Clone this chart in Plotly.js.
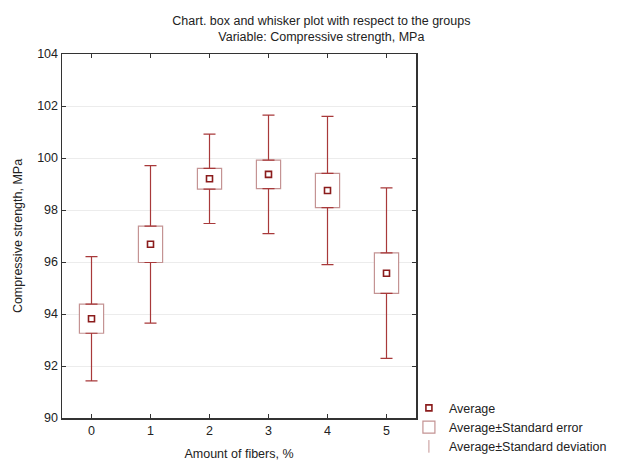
<!DOCTYPE html>
<html>
<head>
<meta charset="utf-8">
<script src="https://cdn.plot.ly/plotly-3.0.1.min.js"></script>
<style>html,body{margin:0;padding:0;background:#fff;}#chart{width:624px;height:473px;}</style>
</head>
<body>
<div id="chart"></div>
<script>
// Data
const fibers = [0, 1, 2, 3, 4, 5];
const tickLabels = ["0", "1", "2", "3", "4", "5"];
const average = [93.82, 96.68, 99.20, 99.37, 98.75, 95.57];
const stdError = [0.56, 0.70, 0.40, 0.55, 0.66, 0.78];
const stdDev = [2.39, 3.03, 1.72, 2.28, 2.85, 3.28];

const whiskerColor = '#a8393a';
const boxColor = '#c49393';
const meanColor = '#8b1c1c';
const fontFamily = 'Liberation Sans, Arial, sans-serif';

const seLow = average.map((m, i) => m - stdError[i]);
const seHigh = average.map((m, i) => m + stdError[i]);
const whiskerLen = stdDev.map((s, i) => s - stdError[i]);
const zeros = fibers.map(() => 0);

const traces = [
  // upper whiskers (from box top to mean+SD)
  {
    type: 'scatter', mode: 'markers', x: fibers, y: seHigh,
    marker: {size: 1, color: 'rgba(0,0,0,0)'},
    error_y: {type: 'data', symmetric: false, array: whiskerLen, arrayminus: zeros,
              color: whiskerColor, thickness: 1.2, width: 6},
    showlegend: false, hoverinfo: 'skip'
  },
  // lower whiskers (from box bottom to mean-SD)
  {
    type: 'scatter', mode: 'markers', x: fibers, y: seLow,
    marker: {size: 1, color: 'rgba(0,0,0,0)'},
    error_y: {type: 'data', symmetric: false, array: zeros, arrayminus: whiskerLen,
              color: whiskerColor, thickness: 1.2, width: 6},
    showlegend: false, hoverinfo: 'skip'
  },
  // boxes: mean ± standard error
  {
    type: 'bar', x: fibers, base: seLow, y: stdError.map(s => 2 * s),
    width: 0.41,
    marker: {color: '#ffffff', line: {color: boxColor, width: 1.2}},
    name: 'Average±Standard error', showlegend: true, legendrank: 2
  },
  // mean markers
  {
    type: 'scatter', mode: 'markers', x: fibers, y: average,
    marker: {symbol: 'square-open', size: 6, color: meanColor, line: {width: 1.6, color: meanColor}},
    name: 'Average', legendrank: 1
  },
  // legend-only entry for the whiskers
  {
    type: 'scatter', mode: 'markers', x: [null], y: [null],
    marker: {symbol: 'line-ns-open', size: 9, color: boxColor, line: {width: 1, color: boxColor}},
    name: 'Average±Standard deviation', legendrank: 3
  }
];

const layout = {
  width: 624, height: 473,
  margin: {l: 62, r: 189, t: 54, b: 45},
  paper_bgcolor: '#ffffff', plot_bgcolor: '#ffffff',
  font: {family: fontFamily, size: 12.5, color: '#222'},
  title: {
    text: 'Chart. box and whisker plot with respect to the groups<br>Variable: Compressive strength, MPa',
    font: {family: fontFamily, size: 12.5, color: '#222'},
    xref: 'container', x: 0.515, xanchor: 'center',
    yref: 'paper', y: 1, yanchor: 'bottom', pad: {b: 29}
  },
  xaxis: {
    range: [-0.5, 5.5], tickvals: fibers, ticktext: tickLabels,
    showgrid: false, zeroline: false,
    showline: true, linecolor: '#333', linewidth: 1.5, mirror: 'ticks',
    ticks: 'inside', ticklen: 4, tickcolor: '#333',
    tickfont: {size: 12.5, color: '#222'},
    title: {text: 'Amount of fibers, %', font: {size: 12.5, color: '#222'}, standoff: 12}
  },
  yaxis: {
    range: [90, 104], dtick: 2, tick0: 90,
    showgrid: true, gridcolor: '#ececec', gridwidth: 1, zeroline: false,
    showline: true, linecolor: '#333', linewidth: 1.5, mirror: 'ticks',
    ticks: 'inside', ticklen: 4, tickcolor: '#333',
    tickfont: {size: 12.5, color: '#222'},
    title: {text: 'Compressive strength, MPa', font: {size: 12.5, color: '#222'}, standoff: 12}
  },
  showlegend: true,
  legend: {
    x: 0.98, xanchor: 'left', y: 0.068, yanchor: 'top',
    bgcolor: 'rgba(0,0,0,0)', borderwidth: 0,
    font: {family: fontFamily, size: 12.5, color: '#222'},
    itemwidth: 30, tracegroupgap: 0, traceorder: 'normal'
  },
  bargap: 0
};

Plotly.newPlot('chart', traces, layout, {displayModeBar: false, staticPlot: true});
</script>
</body>
</html>
